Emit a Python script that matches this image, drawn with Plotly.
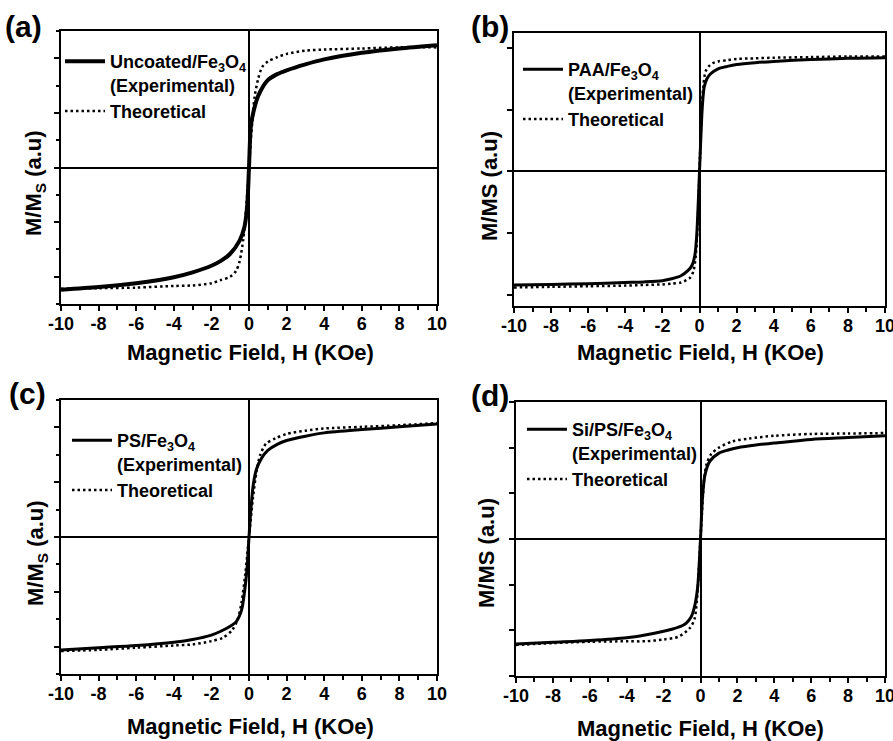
import plotly.graph_objects as go

FONT = "Liberation Sans, Arial, sans-serif"
W, H = 893, 741

# ---------------- data ----------------
x_ticks = [-10, -8, -6, -4, -2, 0, 2, 4, 6, 8, 10]
x_tick_labels = ["-10", "-8", "-6", "-4", "-2", "0", "2", "4", "6", "8", "10"]

# (a) Uncoated/Fe3O4
a_exp_x = [-10, -8, -6, -4, -3, -2, -1.5, -1, -0.5, -0.25, -0.1, 0, 0.1, 0.25, 0.5, 1, 1.5, 2, 3, 4, 6, 8, 10]
a_exp_y = [-1.12, -1.095, -1.06, -1.005, -0.96, -0.90, -0.855, -0.79, -0.67, -0.55, -0.36, 0, 0.38, 0.52, 0.66, 0.80, 0.855, 0.89, 0.945, 0.99, 1.05, 1.09, 1.12]
a_th_x = [-10, -8, -6, -4, -3, -2, -1.5, -1, -0.7, -0.5, -0.3, -0.2, -0.1, 0, 0.1, 0.2, 0.3, 0.5, 0.7, 1, 1.5, 2, 3, 4, 6, 8, 10]
a_th_y = [-1.11, -1.105, -1.10, -1.085, -1.08, -1.06, -1.03, -1.0, -0.95, -0.86, -0.65, -0.47, -0.26, 0, 0.26, 0.47, 0.65, 0.82, 0.92, 0.97, 1.01, 1.04, 1.07, 1.08, 1.09, 1.10, 1.10]

# (b) PAA/Fe3O4
b_exp_x = [-10, -8, -6, -4, -3, -2, -1.5, -1, -0.6, -0.4, -0.25, -0.15, -0.08, 0, 0.08, 0.15, 0.25, 0.4, 0.6, 1, 1.5, 2, 3, 4, 6, 8, 10]
b_exp_y = [-0.92, -0.915, -0.91, -0.90, -0.895, -0.885, -0.87, -0.845, -0.80, -0.76, -0.68, -0.52, -0.30, 0, 0.30, 0.52, 0.68, 0.75, 0.79, 0.83, 0.85, 0.865, 0.88, 0.89, 0.905, 0.915, 0.92]
b_th_x = [-10, -8, -6, -4, -3, -2, -1.5, -1, -0.7, -0.5, -0.33, -0.2, -0.1, 0, 0.1, 0.2, 0.33, 0.5, 0.7, 1, 1.5, 2, 3, 4, 6, 8, 10]
b_th_y = [-0.94, -0.935, -0.93, -0.925, -0.92, -0.915, -0.91, -0.90, -0.88, -0.86, -0.81, -0.68, -0.42, 0, 0.42, 0.68, 0.81, 0.85, 0.875, 0.89, 0.90, 0.91, 0.915, 0.92, 0.925, 0.93, 0.93]

# (c) PS/Fe3O4
c_exp_x = [-10, -8, -6, -4, -3, -2, -1.5, -1, -0.67, -0.4, -0.23, -0.1, 0, 0.1, 0.23, 0.4, 0.67, 1, 1.5, 2, 3, 4, 6, 8, 10]
c_exp_y = [-1.03, -1.01, -0.99, -0.96, -0.935, -0.895, -0.86, -0.815, -0.77, -0.67, -0.49, -0.28, 0, 0.25, 0.48, 0.62, 0.72, 0.79, 0.845, 0.88, 0.92, 0.95, 0.98, 1.005, 1.03]
c_th_x = [-10, -8, -6, -4, -3, -2, -1.4, -0.9, -0.6, -0.4, -0.2, 0, 0.2, 0.4, 0.6, 0.9, 1.4, 2, 3, 4, 6, 8, 10]
c_th_y = [-1.04, -1.03, -1.01, -0.99, -0.98, -0.95, -0.92, -0.85, -0.75, -0.60, -0.34, 0, 0.34, 0.60, 0.75, 0.85, 0.90, 0.94, 0.97, 0.99, 1.005, 1.02, 1.04]

# (d) Si/PS/Fe3O4
d_exp_x = [-10, -8, -6, -4, -3, -2, -1.5, -1, -0.77, -0.5, -0.3, -0.15, 0, 0.1, 0.24, 0.5, 1, 1.5, 2, 3, 4, 6, 8, 10]
d_exp_y = [-1.15, -1.13, -1.11, -1.08, -1.05, -1.01, -0.985, -0.95, -0.92, -0.85, -0.72, -0.52, 0, 0.43, 0.70, 0.85, 0.94, 0.975, 1.0, 1.03, 1.05, 1.09, 1.11, 1.13]
d_th_x = [-10, -8, -6, -4, -3, -2, -1.2, -0.6, -0.33, -0.2, 0, 0.2, 0.33, 0.58, 1, 1.75, 2.65, 4, 6, 8, 10]
d_th_y = [-1.16, -1.14, -1.125, -1.12, -1.12, -1.10, -1.07, -0.98, -0.88, -0.68, 0, 0.66, 0.82, 0.93, 1.0, 1.07, 1.10, 1.13, 1.15, 1.155, 1.16]

panel_labels = ["(a)", "(b)", "(c)", "(d)"]
exp_names = [
    "Uncoated/Fe<sub>3</sub>O<sub>4</sub><br>(Experimental)",
    "PAA/Fe<sub>3</sub>O<sub>4</sub><br>(Experimental)",
    "PS/Fe<sub>3</sub>O<sub>4</sub><br>(Experimental)",
    "Si/PS/Fe<sub>3</sub>O<sub>4</sub><br>(Experimental)",
]
th_name = "Theoretical"
y_titles = ["M/M<sub>S</sub> (a.u)", "M/MS (a.u)", "M/M<sub>S</sub> (a.u)", "M/MS (a.u)"]
x_title = "Magnetic Field, H (KOe)"

# ---------------- layout geometry (pixels) ----------------
boxes = [  # left, right, top, bottom
    (61, 437, 31, 304),
    (514, 885, 33, 306),
    (61, 437, 400, 674),
    (516, 885, 402, 676),
]
y_ranges = [(-1.25, 1.25), (-1.09, 1.12), (-1.25, 1.25), (-1.5, 1.5)]
y_minor = [True, False, True, False]
exp_widths = [4, 3, 3, 3]
legend_pos = [(60, 43), (518, 51), (67, 422), (522, 411)]
label_pos = [(23, 26), (490, 26), (27, 393), (490, 395)]
xtitle_pos = [(250, 352), (700, 353), (250, 726), (700, 728)]
ytitle_pos = [(35, 183), (490, 186), (37, 553), (486, 553)]

def px(x):
    return x / W

def py(y):
    return 1 - y / H

fig = go.Figure()

series = [
    (a_exp_x, a_exp_y, a_th_x, a_th_y),
    (b_exp_x, b_exp_y, b_th_x, b_th_y),
    (c_exp_x, c_exp_y, c_th_x, c_th_y),
    (d_exp_x, d_exp_y, d_th_x, d_th_y),
]

bold = dict(family=FONT, color="black", weight="bold")
annotations = []
layout = {}

for i, (ex, ey, tx, ty) in enumerate(series):
    n = i + 1
    xa = "x" if n == 1 else f"x{n}"
    ya = "y" if n == 1 else f"y{n}"
    lg = "legend" if n == 1 else f"legend{n}"
    fig.add_trace(go.Scatter(
        x=ex, y=ey, mode="lines", name=exp_names[i],
        line=dict(color="black", width=exp_widths[i], shape="spline", smoothing=0.8),
        xaxis=xa, yaxis=ya, legend=lg,
    ))
    fig.add_trace(go.Scatter(
        x=tx, y=ty, mode="lines", name=th_name,
        line=dict(color="black", width=2.5, dash="2.5px,3px", shape="spline", smoothing=0.8),
        xaxis=xa, yaxis=ya, legend=lg,
    ))

    l, r, t, b = boxes[i]
    xdom = [px(l), px(r)]
    ydom = [py(b), py(t)]
    xkey = "xaxis" if n == 1 else f"xaxis{n}"
    ykey = "yaxis" if n == 1 else f"yaxis{n}"
    layout[xkey] = dict(
        domain=xdom, anchor=ya, range=[-10, 10], automargin=False,
        tickmode="array", tickvals=x_ticks, ticktext=x_tick_labels,
        ticklabeloverflow="allow", ticklabelstandoff=-3,
        ticks="outside", ticklen=5, tickwidth=1.5, tickcolor="black",
        minor=dict(ticks="outside", tickmode="linear", tick0=-10, dtick=1, ticklen=4, tickwidth=1.5, tickcolor="black", showgrid=False),
        tickfont=dict(size=18, **bold),
        showline=True, linecolor="black", linewidth=2, mirror=True,
        zeroline=True, zerolinecolor="black", zerolinewidth=2,
        showgrid=False, fixedrange=True,
    )
    yminor = dict(ticks="outside", tickmode="linear", tick0=0, dtick=0.25, ticklen=3, tickwidth=1.5, tickcolor="black", showgrid=False) if y_minor[i] else dict(ticks="")
    layout[ykey] = dict(
        domain=ydom, anchor=xa, range=list(y_ranges[i]), automargin=False,
        tickmode="linear", tick0=0, dtick=0.5,
        ticks="outside", ticklen=5, tickwidth=1.5, tickcolor="black",
        minor=yminor,
        showticklabels=False,
        showline=True, linecolor="black", linewidth=2, mirror=True,
        zeroline=True, zerolinecolor="black", zerolinewidth=2,
        showgrid=False, fixedrange=True,
    )
    # mirrored inward ticks on top and right (overlaying axes, no data)
    xo = f"xaxis{n + 4}"
    yo = f"yaxis{n + 4}"
    layout[xo] = dict(
        overlaying=xa, anchor=ya, side="top", range=[-10, 10], automargin=False,
        tickmode="array", tickvals=x_ticks, showticklabels=False,
        ticks="inside", ticklen=5, tickwidth=1.5, tickcolor="black",
        minor=dict(ticks="inside", tickmode="linear", tick0=-10, dtick=1, ticklen=4, tickwidth=1.5, tickcolor="black", showgrid=False),
        showline=False, zeroline=False, showgrid=False, fixedrange=True,
    )
    yominor = dict(ticks="inside", tickmode="linear", tick0=0, dtick=0.25, ticklen=3, tickwidth=1.5, tickcolor="black", showgrid=False) if y_minor[i] else dict(ticks="")
    layout[yo] = dict(
        overlaying=ya, anchor=xa, side="right", range=list(y_ranges[i]), automargin=False,
        tickmode="linear", tick0=0, dtick=0.5, showticklabels=False,
        ticks="inside", ticklen=5, tickwidth=1.5, tickcolor="black",
        minor=yominor,
        showline=False, zeroline=False, showgrid=False, fixedrange=True,
    )

    lx, ly = legend_pos[i]
    layout[lg] = dict(
        x=px(lx), y=py(ly), xanchor="left", yanchor="top",
        bgcolor="rgba(0,0,0,0)", borderwidth=0,
        font=dict(size=18, **bold), valign="top",
        itemwidth=40, tracegroupgap=0, itemclick=False, itemdoubleclick=False,
    )

    ax_, ay_ = label_pos[i]
    annotations.append(dict(
        text=panel_labels[i], x=px(ax_), y=py(ay_), xref="paper", yref="paper",
        xanchor="center", yanchor="middle", showarrow=False,
        font=dict(size=30, **bold),
    ))
    tx_, ty_ = xtitle_pos[i]
    annotations.append(dict(
        text=x_title, x=px(tx_), y=py(ty_), xref="paper", yref="paper",
        xanchor="center", yanchor="middle", showarrow=False,
        font=dict(size=22, **bold),
    ))
    yx_, yy_ = ytitle_pos[i]
    annotations.append(dict(
        text=y_titles[i], x=px(yx_), y=py(yy_), xref="paper", yref="paper",
        xanchor="center", yanchor="middle", showarrow=False, textangle=-90,
        font=dict(size=22, **bold),
    ))

fig.update_layout(
    template="none",
    width=W, height=H, autosize=False,
    margin=dict(l=0, r=0, t=0, b=0, pad=0),
    paper_bgcolor="white", plot_bgcolor="white",
    annotations=annotations,
    showlegend=True,
    font=dict(family=FONT, color="black"),
    **layout,
)

fig.write_html(
    "out.html",
    config={"displayModeBar": False, "staticPlot": False},
    post_script="document.body.style.margin='0';document.body.style.padding='0';document.body.style.overflow='hidden';",
)
